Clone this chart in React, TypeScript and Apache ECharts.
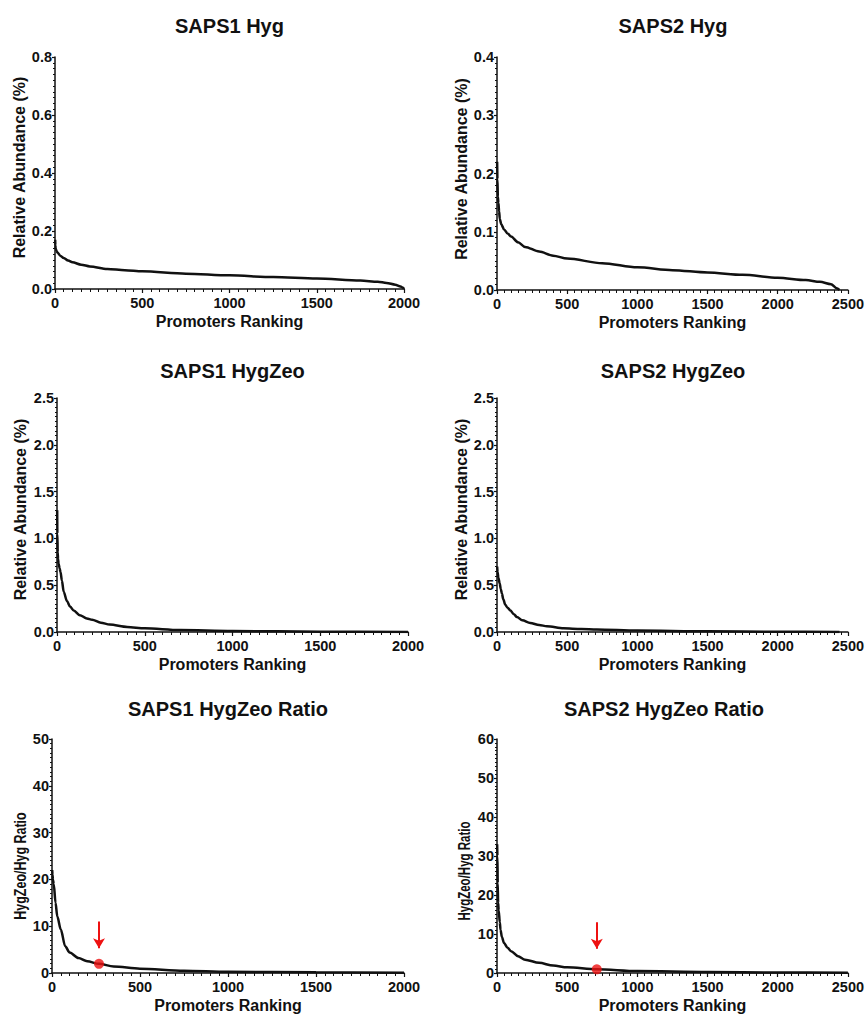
import React, { useEffect, useRef } from "react";
import * as echarts from "echarts";

// ---------- data ----------
const TITLES = [
  "SAPS1 Hyg",
  "SAPS2 Hyg",
  "SAPS1 HygZeo",
  "SAPS2 HygZeo",
  "SAPS1 HygZeo Ratio",
  "SAPS2 HygZeo Ratio",
];
const Y_NAMES = [
  "Relative Abundance (%)",
  "Relative Abundance (%)",
  "Relative Abundance (%)",
  "Relative Abundance (%)",
  "HygZeo/Hyg Ratio",
  "HygZeo/Hyg Ratio",
];
const X_NAME = "Promoters Ranking";
const X_MAX = [2000, 2500, 2000, 2500, 2000, 2500];
const X_STEP = [500, 500, 500, 500, 500, 500];
const Y_MAX = [0.8, 0.4, 2.5, 2.5, 50, 60];
const Y_STEP = [0.2, 0.1, 0.5, 0.5, 10, 10];
const Y_DECIMALS = [1, 1, 1, 1, 0, 0];

// SAPS1 Hyg
const RANK_1 = [1, 2, 4, 8, 15, 30, 50, 75, 100, 150, 200, 300, 400, 500, 750, 1000, 1250, 1500, 1750, 1850, 1900, 1950, 1980, 1995, 2000];
const VALUE_1 = [0.17, 0.15, 0.14, 0.132, 0.125, 0.115, 0.107, 0.098, 0.092, 0.084, 0.078, 0.069, 0.065, 0.061, 0.053, 0.047, 0.041, 0.036, 0.029, 0.025, 0.021, 0.015, 0.009, 0.004, 0.0];
// SAPS2 Hyg
const RANK_2 = [1, 3, 6, 10, 15, 20, 30, 50, 75, 100, 150, 200, 300, 400, 500, 750, 1000, 1250, 1500, 1750, 2000, 2200, 2300, 2380, 2420, 2440];
const VALUE_2 = [0.22, 0.19, 0.16, 0.15, 0.135, 0.122, 0.113, 0.104, 0.097, 0.092, 0.082, 0.074, 0.066, 0.059, 0.054, 0.046, 0.039, 0.034, 0.03, 0.026, 0.021, 0.017, 0.014, 0.01, 0.003, 0.0];
// SAPS1 HygZeo
const RANK_3 = [1, 2, 4, 6, 9, 15, 20, 28, 38, 57, 75, 95, 130, 170, 200, 250, 300, 400, 500, 700, 1000, 1500, 2000];
const VALUE_3 = [1.3, 1.05, 0.85, 0.78, 0.73, 0.68, 0.64, 0.55, 0.43, 0.33, 0.27, 0.23, 0.18, 0.145, 0.13, 0.1, 0.079, 0.054, 0.039, 0.021, 0.011, 0.004, 0.001];
// SAPS2 HygZeo
const RANK_4 = [1, 4, 10, 19, 27, 35, 45, 59, 75, 95, 120, 142, 180, 237, 300, 356, 474, 600, 711, 1000, 1500, 2000, 2440];
const VALUE_4 = [0.7, 0.64, 0.58, 0.52, 0.46, 0.41, 0.35, 0.29, 0.26, 0.23, 0.19, 0.16, 0.125, 0.096, 0.075, 0.061, 0.04, 0.031, 0.026, 0.015, 0.007, 0.003, 0.0];
// SAPS1 HygZeo Ratio
const RANK_5 = [1, 3, 5, 10, 20, 30, 50, 75, 100, 150, 200, 267, 350, 500, 750, 1000, 1500, 2000];
const VALUE_5 = [22, 21, 20, 19, 15, 12.1, 9.3, 5.7, 4.4, 3.2, 2.5, 1.95, 1.4, 0.93, 0.5, 0.28, 0.14, 0.05];
// SAPS2 HygZeo Ratio
const RANK_6 = [1, 3, 5, 8, 12, 20, 25, 35, 50, 75, 100, 150, 200, 300, 400, 500, 711, 1000, 1500, 2000, 2500];
const VALUE_6 = [33, 30, 23, 18, 16, 13, 11.1, 9.2, 7.7, 6.5, 5.6, 4.3, 3.4, 2.6, 1.9, 1.45, 0.94, 0.5, 0.25, 0.13, 0.08];

const RANKS = [RANK_1, RANK_2, RANK_3, RANK_4, RANK_5, RANK_6];
const VALUES = [VALUE_1, VALUE_2, VALUE_3, VALUE_4, VALUE_5, VALUE_6];

// highlighted promoter in the ratio panels (panel index 4 and 5)
const MARK_PANEL = [4, 5];
const MARK_RANK = [267, 711];
const MARK_VALUE = [1.95, 0.94];
const ARROW_FROM = [11, 13];
const ARROW_TO = [5.3, 6.2];

// ---------- layout ----------
const GRIDS = [
  { left: 55, top: 57, width: 349, height: 232 },
  { left: 497, top: 57, width: 351, height: 233 },
  { left: 57, top: 398, width: 351, height: 234 },
  { left: 497, top: 398, width: 351, height: 234 },
  { left: 52, top: 739, width: 352, height: 234 },
  { left: 497, top: 739, width: 351, height: 234 },
];
const TITLE_POS = [
  [229.5, 25.5],
  [673, 25.5],
  [232.5, 371],
  [673, 371],
  [228, 708.5],
  [664, 708.5],
];
const Y_NAME_GAP = [27, 27.5, 29, 28, 26, 27];
const Y_NAME_PAD = [
  [0, 0, 0, 11],
  [0, 0, 0, 9],
  [0, 0, 0, 11],
  [0, 0, 0, 11],
  [0, 0, 0, 0],
  [0, 0, 0, 0],
];
// ratio panels: y-axis name drawn as condensed text (centre x, centre y, horizontal squeeze)
const Y_NAME_GRAPHIC: Record<number, [number, number, number]> = {
  4: [20, 866, 0.78],
  5: [464, 871, 0.72],
};
const FONT = "'Liberation Sans', Arial, Helvetica, sans-serif";
const INK = "#111111";
const RED = "#ee1111";

export default function App() {
  const ref = useRef<HTMLDivElement>(null);

  useEffect(() => {
    document.body.style.margin = "0";
    if (!ref.current) return;
    const chart = echarts.init(ref.current, undefined, { renderer: "svg" });

    const grid = GRIDS.map((g) => ({ ...g, containLabel: false }));

    const xAxis = X_MAX.map((max, i) => ({
      type: "value",
      gridIndex: i,
      min: 0,
      max,
      interval: X_STEP[i],
      name: X_NAME,
      nameLocation: "middle",
      nameGap: 24,
      nameTextStyle: { fontFamily: FONT, fontWeight: "bold", fontSize: 16, color: INK },
      axisLine: { show: true, onZero: false, lineStyle: { color: INK, width: 1.5 } },
      axisTick: { show: true, length: 4, lineStyle: { color: INK, width: 1.2 } },
      minorTick: { show: true, splitNumber: 10, length: 3, lineStyle: { color: INK, width: 1 } },
      axisLabel: {
        margin: 6,
        fontFamily: FONT,
        fontWeight: "bold",
        fontSize: 14.5,
        color: INK,
        formatter: (v: number) => String(v),
      },
      splitLine: { show: false },
      minorSplitLine: { show: false },
    }));

    const yAxis = Y_MAX.map((max, i) => ({
      type: "value",
      gridIndex: i,
      min: 0,
      max,
      interval: Y_STEP[i],
      name: Y_NAME_GRAPHIC[i] ? "" : Y_NAMES[i],
      nameLocation: "middle",
      nameRotate: 90,
      nameGap: Y_NAME_GAP[i],
      nameTextStyle: {
        fontFamily: FONT,
        fontWeight: "bold",
        fontSize: 16,
        color: INK,
        padding: Y_NAME_PAD[i],
      },
      axisLine: { show: true, onZero: false, lineStyle: { color: INK, width: 1.5 } },
      axisTick: { show: true, length: 3, lineStyle: { color: INK, width: 1.2 } },
      minorTick: { show: true, splitNumber: 10, length: 2, lineStyle: { color: INK, width: 1 } },
      axisLabel: {
        margin: 3,
        fontFamily: FONT,
        fontWeight: "bold",
        fontSize: 14.5,
        color: INK,
        formatter: (v: number) => v.toFixed(Y_DECIMALS[i]),
      },
      splitLine: { show: false },
      minorSplitLine: { show: false },
    }));

    const series: any[] = RANKS.map((ranks, i) => ({
      type: "line",
      name: TITLES[i],
      xAxisIndex: i,
      yAxisIndex: i,
      data: ranks.map((r, k) => [r, VALUES[i][k]]),
      showSymbol: false,
      smooth: 0.3,
      smoothMonotone: "x",
      lineStyle: { color: INK, width: 2.5 },
      silent: true,
      z: 3,
    }));

    MARK_PANEL.forEach((p, k) => {
      series.push({
        type: "scatter",
        name: TITLES[p] + " highlight",
        xAxisIndex: p,
        yAxisIndex: p,
        data: [[MARK_RANK[k], MARK_VALUE[k]]],
        symbol: "circle",
        symbolSize: 10,
        itemStyle: { color: RED },
        silent: true,
        z: 5,
        markLine: {
          silent: true,
          symbol: ["none", "arrow"],
          symbolSize: [9, 10],
          label: { show: false },
          lineStyle: { color: RED, width: 2, type: "solid" },
          data: [
            [
              { coord: [MARK_RANK[k], ARROW_FROM[k]] },
              { coord: [MARK_RANK[k], ARROW_TO[k]] },
            ],
          ],
        },
      });
    });

    const graphic: any[] = TITLES.map((t, i) => ({
      type: "text",
      x: TITLE_POS[i][0],
      y: TITLE_POS[i][1],
      style: {
        text: t,
        fill: INK,
        font: `bold 20px ${FONT}`,
        textAlign: "center",
        textVerticalAlign: "middle",
      },
    }));

    Object.keys(Y_NAME_GRAPHIC).forEach((key) => {
      const i = Number(key);
      const [cx, cy, squeeze] = Y_NAME_GRAPHIC[i];
      graphic.push({
        type: "text",
        x: cx,
        y: cy,
        rotation: Math.PI / 2,
        scaleX: squeeze,
        style: {
          text: Y_NAMES[i],
          fill: INK,
          font: `bold 16px ${FONT}`,
          textAlign: "center",
          textVerticalAlign: "middle",
        },
      });
    });

    chart.setOption({
      animation: false,
      backgroundColor: "#ffffff",
      grid,
      xAxis,
      yAxis,
      series,
      graphic,
    });

    return () => chart.dispose();
  }, []);

  return <div ref={ref} style={{ width: 867, height: 1014 }} />;
}
